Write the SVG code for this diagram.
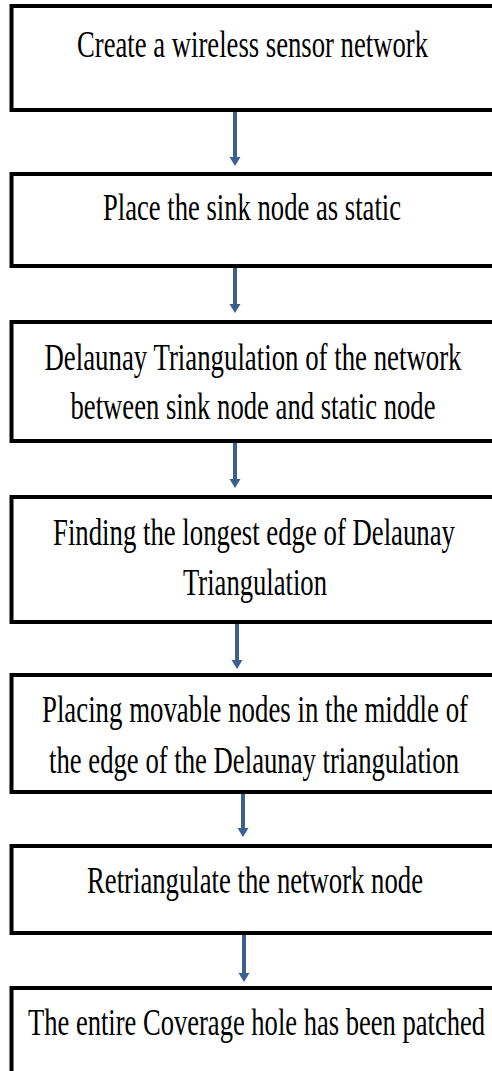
<svg xmlns="http://www.w3.org/2000/svg" width="492" height="1071" viewBox="0 0 492 1071">
<defs>
<style>
.box{fill:#ffffff;stroke:#000000;stroke-width:4}
.lbl{font-family:'Liberation Serif','Times New Roman','DejaVu Serif',serif;font-size:37px;fill:#000000;text-anchor:middle}
.conn{stroke:#3B5F8E;stroke-width:4;fill:none}
.head{fill:#3B5F8E}
</style>
</defs>
<rect width="492" height="1071" fill="#ffffff"/>
<g id="connectors">
<line class="conn" x1="235" y1="112" x2="235" y2="158"/><polygon class="head" points="229.5,157 240.5,157 235,166"/>
<line class="conn" x1="235" y1="268" x2="235" y2="305"/><polygon class="head" points="229.5,304 240.5,304 235,313"/>
<line class="conn" x1="235" y1="443" x2="235" y2="480"/><polygon class="head" points="229.5,479 240.5,479 235,488"/>
<line class="conn" x1="237" y1="624" x2="237" y2="661"/><polygon class="head" points="231.5,660 242.5,660 237,669"/>
<line class="conn" x1="243" y1="794" x2="243" y2="829"/><polygon class="head" points="237.5,828 248.5,828 243,837"/>
<line class="conn" x1="244" y1="935" x2="244" y2="974"/><polygon class="head" points="238.5,973 249.5,973 244,982"/>
</g>
<g id="n1"><rect class="box" x="11.5" y="6" width="490" height="104"/>
<text class="lbl" font-family="Liberation Serif, serif" transform="matrix(0.72,0,0,1,252.5,57)" x="0" y="0" textLength="487.5" lengthAdjust="spacingAndGlyphs">Create a wireless sensor network</text></g>
<g id="n2"><rect class="box" x="11.5" y="174" width="490" height="92"/>
<text class="lbl" font-family="Liberation Serif, serif" transform="matrix(0.72,0,0,1,252,220)" x="0" y="0" textLength="413.9" lengthAdjust="spacingAndGlyphs">Place the sink node as static</text></g>
<g id="n3"><rect class="box" x="11.5" y="322" width="490" height="119"/>
<text class="lbl" font-family="Liberation Serif, serif" transform="matrix(0.72,0,0,1,253,370)" x="0" y="0" textLength="579.2" lengthAdjust="spacingAndGlyphs">Delaunay Triangulation of the network</text>
<text class="lbl" font-family="Liberation Serif, serif" transform="matrix(0.72,0,0,1,253,419)" x="0" y="0" textLength="506.9" lengthAdjust="spacingAndGlyphs">between sink node and static node</text></g>
<g id="n4"><rect class="box" x="11.5" y="497" width="490" height="125"/>
<text class="lbl" font-family="Liberation Serif, serif" transform="matrix(0.72,0,0,1,254,545)" x="0" y="0" textLength="558.3" lengthAdjust="spacingAndGlyphs">Finding the longest edge of Delaunay</text>
<text class="lbl" font-family="Liberation Serif, serif" transform="matrix(0.72,0,0,1,255,595)" x="0" y="0" textLength="200" lengthAdjust="spacingAndGlyphs">Triangulation</text></g>
<g id="n5"><rect class="box" x="11.5" y="675" width="490" height="117"/>
<text class="lbl" font-family="Liberation Serif, serif" transform="matrix(0.72,0,0,1,255,722)" x="0" y="0" textLength="591.7" lengthAdjust="spacingAndGlyphs">Placing movable nodes in the middle of</text>
<text class="lbl" font-family="Liberation Serif, serif" transform="matrix(0.72,0,0,1,254,773)" x="0" y="0" textLength="569.4" lengthAdjust="spacingAndGlyphs">the edge of the Delaunay triangulation</text></g>
<g id="n6"><rect class="box" x="11.5" y="846" width="490" height="87"/>
<text class="lbl" font-family="Liberation Serif, serif" transform="matrix(0.72,0,0,1,255,893)" x="0" y="0" textLength="466.7" lengthAdjust="spacingAndGlyphs">Retriangulate the network node</text></g>
<g id="n7"><rect class="box" x="11.5" y="988" width="490" height="100"/>
<text class="lbl" font-family="Liberation Serif, serif" transform="matrix(0.72,0,0,1,256.5,1035)" x="0" y="0" textLength="634.7" lengthAdjust="spacingAndGlyphs">The entire Coverage hole has been patched</text></g>
</svg>
